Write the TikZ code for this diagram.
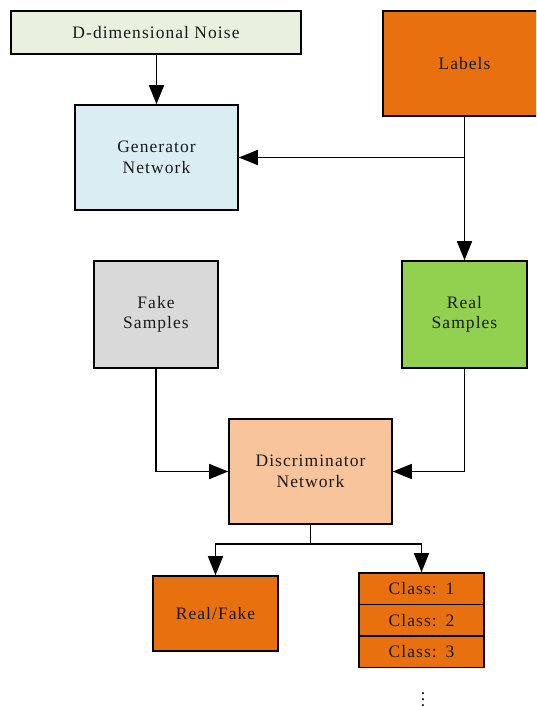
\documentclass[tikz,border=0pt]{standalone}
\usepackage{fontspec}
\setmainfont{Liberation Serif}[LetterSpace=6]
\usetikzlibrary{arrows.meta}
\definecolor{noisec}{HTML}{E9F0DF}
\definecolor{orangec}{HTML}{E8700F}
\definecolor{genc}{HTML}{DAEDF3}
\definecolor{fakec}{HTML}{D9D9D9}
\definecolor{realc}{HTML}{92D050}
\definecolor{discc}{HTML}{F8C49C}
\definecolor{txt}{HTML}{1A1A1A}
\tikzset{
  box/.style={draw=black, line width=1.6pt, inner sep=0pt, align=center, text=txt,
    font=\fontsize{17.5}{20.5}\selectfont},
  conn/.style={draw=black, line width=1.6pt},
  arr/.style={conn, -{Triangle[length=19pt,width=15pt]}},
}
\newcommand{\mydots}{\vbox{\baselineskip6pt\lineskiplimit-10pt\lineskip0pt\hbox{.}\hbox{.}\hbox{.}}}
\begin{document}
\begin{tikzpicture}[x=1pt,y=-1pt]
\useasboundingbox (0,0) rectangle (536,706);
\clip (0,0) rectangle (536,706);
\node[box, fill=noisec, minimum width=290pt, minimum height=43pt] (noise) at (156,32.5) {D-dimensional Noise};
\node[box, fill=orangec, minimum width=163pt, minimum height=105pt] (labels) at (464.5,63.5) {Labels};
\node[box, fill=genc, minimum width=163pt, minimum height=105pt] (gen) at (156.5,157.5) {Generator\\Network};
\node[box, fill=fakec, minimum width=124pt, minimum height=107pt] (fake) at (156,314.5) {Fake\\Samples};
\node[box, fill=realc, minimum width=125pt, minimum height=107pt] (real) at (464.5,314.5) {Real\\Samples};
\node[box, fill=discc, minimum width=163pt, minimum height=105pt] (disc) at (310.5,471.5) {Discriminator\\Network};
\node[box, fill=orangec, minimum width=125pt, minimum height=75pt] (rf) at (215.5,613.5) {Real/Fake};
\node[box, fill=orangec, minimum width=125pt, minimum height=31.5pt] (c1) at (421.5,588.75) {Class:\hspace{0.5em}1};
\node[box, fill=orangec, minimum width=125pt, minimum height=31.5pt] (c2) at (421.5,620.25) {Class:\hspace{0.5em}2};
\node[box, fill=orangec, minimum width=125pt, minimum height=31.5pt] (c3) at (421.5,651.75) {Class:\hspace{0.5em}3};
\node[inner sep=0pt, font=\fontsize{17.5}{17.5}\selectfont, text=black, anchor=south] (dots) at (423,706.5) {\mydots};

\draw[arr] (noise.south -| gen.north) -- (gen.north);
\draw[arr] (labels.south) -- (real.north);
\coordinate (lsplit) at (labels.south |- gen.east);
\draw[arr] (lsplit) -- (gen.east);
\draw[arr] (fake.south) |- (disc.west);
\draw[arr] (real.south) |- (disc.east);
\draw[conn] (disc.south) -- ++(0,19) coordinate (dsplit);
\draw[arr] (dsplit) -| (rf.north);
\draw[arr] (dsplit) -| (c1.north);
\end{tikzpicture}
\end{document}
